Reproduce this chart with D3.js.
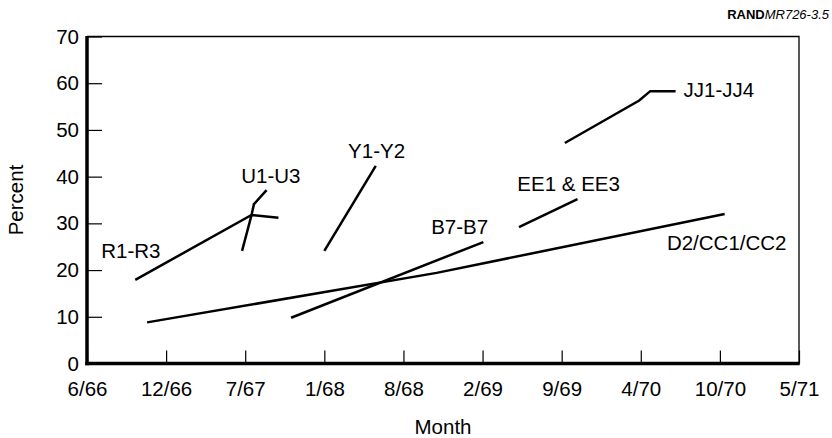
<!DOCTYPE html>
<html>
<head>
<meta charset="utf-8">
<script src="https://cdn.jsdelivr.net/npm/d3@7"></script>
<style>
  body { margin: 0; background: #fff; }
  text { font-family: "Liberation Sans", Arial, sans-serif; fill: #000; }
</style>
</head>
<body>
<main></main>
<script>
const width = 832;
const height = 438;
const margin = {top: 36.5, right: 33, bottom: 74.5, left: 87};

// x positions are in tick-interval units (0 = 6/66 ... 9 = 5/71)
const monthTicks = ["6/66", "12/66", "7/67", "1/68", "8/68", "2/69", "9/69", "4/70", "10/70", "5/71"];
const percentTicks = [0, 10, 20, 30, 40, 50, 60, 70];

const r1r3 = [[0.61, 17.9], [2.08, 31.8], [2.42, 31.2]];
const u1u3 = [[1.96, 24.1], [2.08, 31.8], [2.11, 34.1], [2.27, 37.1]];
const y1y2 = [[3.0, 24.1], [3.65, 42.3]];
const d2cc = [[0.76, 8.8], [4.42, 19.4], [8.06, 32.0]];
const b7b7 = [[2.58, 9.8], [5.01, 26.0]];
const ee1ee3 = [[5.46, 29.2], [6.2, 35.2]];
const jj1jj4 = [[6.04, 47.2], [6.98, 56.3], [7.12, 58.3], [7.44, 58.3]];

const seriesNames = ["R1-R3", "U1-U3", "Y1-Y2", "D2/CC1/CC2", "B7-B7", "EE1 & EE3", "JJ1-JJ4"];
const seriesData = [r1r3, u1u3, y1y2, d2cc, b7b7, ee1ee3, jj1jj4];
// label anchors (left / baseline) in the same data units
const labelX = [0.18, 1.95, 3.30, 7.33, 4.35, 5.44, 7.54];
const labelY = [22.6, 38.6, 44.0, 24.3, 27.7, 36.9, 57.05];

const svg = d3.select('main')
  .append('svg')
  .attr('width', width)
  .attr('height', height);

const x = d3.scaleLinear()
  .domain([0, monthTicks.length - 1])
  .range([margin.left, width - margin.right]);

const y = d3.scaleLinear()
  .domain([0, 70])
  .range([height - margin.bottom, margin.top]);

// frame: thin top and right edges
svg.append("path")
  .attr("d", `M${x(0)},${y(70)}H${x(9)}V${y(0)}`)
  .attr("fill", "none")
  .attr("stroke", "#000")
  .attr("stroke-width", 1.3);

const yAxis = svg.append("g")
  .attr("transform", `translate(${x(0)},0)`)
  .call(d3.axisLeft(y).tickValues(percentTicks).tickSize(-15).tickPadding(8));

const xAxis = svg.append("g")
  .attr("transform", `translate(0,${y(0)})`)
  .call(d3.axisBottom(x).tickValues(d3.range(monthTicks.length))
    .tickFormat(i => monthTicks[i]).tickSize(-13).tickPadding(18));

[yAxis, xAxis].forEach(g => {
  g.select(".domain").remove();
  g.selectAll(".tick line").attr("stroke", "#000").attr("stroke-width", 1.2);
  g.selectAll(".tick text")
    .style("font-family", '"Liberation Sans", Arial, sans-serif')
    .style("font-size", "20.5px")
    .attr("fill", "#000");
});

// thick left and bottom axis lines
svg.append("line")
  .attr("x1", x(0)).attr("x2", x(0))
  .attr("y1", y(70) - 0.5).attr("y2", y(0) + 1.75)
  .attr("stroke", "#000").attr("stroke-width", 3.5);
svg.append("line")
  .attr("x1", x(0) - 1.75).attr("x2", x(9) + 0.7)
  .attr("y1", y(0)).attr("y2", y(0))
  .attr("stroke", "#000").attr("stroke-width", 3.5);

const line = d3.line()
  .x(d => x(d[0]))
  .y(d => y(d[1]));

svg.append("g")
  .selectAll("path")
  .data(seriesData)
  .enter()
  .append("path")
  .attr("d", line)
  .attr("fill", "none")
  .attr("stroke", "#000")
  .attr("stroke-width", 2.5);

svg.append("g")
  .selectAll("text")
  .data(seriesNames)
  .enter()
  .append("text")
  .attr("x", (d, i) => x(labelX[i]))
  .attr("y", (d, i) => y(labelY[i]))
  .style("font-size", "20.5px")
  .text(d => d);

// axis titles
svg.append("text")
  .attr("transform", `translate(23,${(y(0) + y(70)) / 2}) rotate(-90)`)
  .attr("text-anchor", "middle")
  .style("font-size", "20.5px")
  .text("Percent");

svg.append("text")
  .attr("x", (x(0) + x(9)) / 2)
  .attr("y", 434)
  .attr("text-anchor", "middle")
  .style("font-size", "20.5px")
  .text("Month");

// figure number
const tag = svg.append("text")
  .attr("x", 829)
  .attr("y", 18.5)
  .attr("text-anchor", "end")
  .style("font-size", "13px");
tag.append("tspan").style("font-weight", "bold").text("RAND");
tag.append("tspan").style("font-style", "italic").text("MR726-3.5");
</script>
</body>
</html>
